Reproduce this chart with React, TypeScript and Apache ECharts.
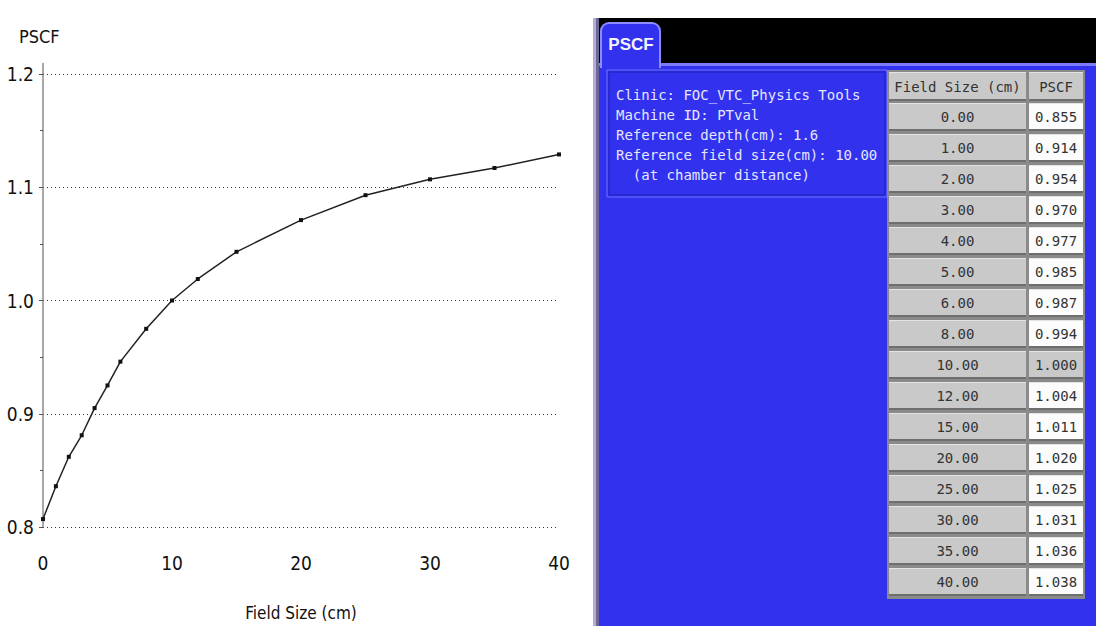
import React, { useEffect, useRef } from "react";
import * as echarts from "echarts";

// Field sizes (cm) shared by the curve and the table
const fieldSizes = [0, 1, 2, 3, 4, 5, 6, 8, 10, 12, 15, 20, 25, 30, 35, 40];
// PSCF values plotted on the curve
const curvePscf = [
  0.807, 0.836, 0.862, 0.881, 0.905, 0.925, 0.946, 0.975, 1.0, 1.019, 1.043,
  1.071, 1.093, 1.107, 1.117, 1.129,
];
// PSCF values listed in the table
const tablePscf = [
  0.855, 0.914, 0.954, 0.97, 0.977, 0.985, 0.987, 0.994, 1.0, 1.004, 1.011,
  1.02, 1.025, 1.031, 1.036, 1.038,
];
const referenceFieldSize = 10;
const infoLines = [
  "Clinic: FOC_VTC_Physics Tools",
  "Machine ID: PTval",
  "Reference depth(cm): 1.6",
  "Reference field size(cm): 10.00",
  "  (at chamber distance)",
];
const tableHeaders = ["Field Size (cm)", "PSCF"];
const tabTitle = "PSCF";

const NARROW = "'Liberation Sans Narrow', 'DejaVu Sans Condensed', 'Liberation Sans', sans-serif";
const MONO = "'DejaVu Sans Mono', 'Liberation Mono', monospace";
const BLUE = "#3131ee";

function buildPanel(): any[] {
  const els: any[] = [];
  // short extension of the value axis above its top tick
  els.push({ type: "line", shape: { x1: 43, y1: 63, x2: 43, y2: 74 }, style: { stroke: "#8a8a8a", lineWidth: 1.5 } });
  // panel frame
  els.push({ type: "rect", shape: { x: 593, y: 18, width: 3, height: 608 }, style: { fill: "#b4acd8" } });
  els.push({ type: "rect", shape: { x: 596, y: 18, width: 3, height: 608 }, style: { fill: "#6c6a92" } });
  els.push({ type: "rect", shape: { x: 599, y: 18, width: 497, height: 46 }, style: { fill: "#000" } });
  els.push({ type: "rect", shape: { x: 599, y: 63, width: 497, height: 3 }, style: { fill: "#7c7cfa" } });
  els.push({ type: "rect", shape: { x: 599, y: 66, width: 497, height: 560 }, style: { fill: BLUE } });
  // tab
  els.push({
    type: "rect",
    shape: { x: 601, y: 23, width: 59, height: 44, r: [8, 8, 0, 0] },
    style: { fill: BLUE, stroke: "#8c8cff", lineWidth: 2 },
  });
  els.push({ type: "rect", shape: { x: 602, y: 63, width: 57, height: 5 }, style: { fill: BLUE } });
  els.push({
    type: "text",
    style: {
      text: tabTitle, x: 631, y: 44, align: "center", verticalAlign: "middle",
      fill: "#f4f4ff", font: "bold 17px 'Liberation Sans', 'DejaVu Sans', sans-serif",
    },
  });
  // info box
  els.push({ type: "rect", shape: { x: 607, y: 70, width: 280, height: 127 }, style: { fill: "none", stroke: "#7070ff", lineWidth: 1 } });
  els.push({ type: "rect", shape: { x: 609, y: 72, width: 276, height: 123 }, style: { fill: "none", stroke: "#2222b8", lineWidth: 1 } });
  infoLines.forEach((line, i) => {
    els.push({
      type: "text",
      style: {
        text: line, x: 616, y: 95 + i * 20, align: "left", verticalAlign: "middle",
        fill: "#e6e6ff", font: `14px ${MONO}`,
      },
    });
  });
  // table
  const colX = [889, 1029];
  const colW = [137, 54];
  els.push({ type: "rect", shape: { x: 887, y: 70, width: 198, height: 529 }, style: { fill: "#8a8a8a" } });
  const cell = (x: number, y: number, w: number, h: number, fill: string, text: string) => {
    els.push({ type: "rect", shape: { x, y, width: w, height: h }, style: { fill } });
    els.push({ type: "rect", shape: { x, y: y + h - 2, width: w, height: 2 }, style: { fill: "#6e6e6e" } });
    els.push({ type: "rect", shape: { x, y, width: w, height: 1 }, style: { fill: "#e4e4e4" } });
    els.push({
      type: "text",
      style: {
        text, x: x + w / 2, y: y + h / 2, align: "center", verticalAlign: "middle",
        fill: "#333", font: `14px ${MONO}`,
      },
    });
  };
  tableHeaders.forEach((h, c) => cell(colX[c], 72, colW[c], 29, "#c9c9c9", h));
  fieldSizes.forEach((fs, i) => {
    const y = 103 + i * 31;
    cell(colX[0], y, colW[0], 28, "#c9c9c9", fs.toFixed(2));
    cell(colX[1], y, colW[1], 28, fs === referenceFieldSize ? "#c9c9c9" : "#fcfcfc", tablePscf[i].toFixed(3));
  });
  return els;
}

export default function App() {
  const ref = useRef<HTMLDivElement>(null);
  useEffect(() => {
    const chart = echarts.init(ref.current!, null, { renderer: "svg" });
    chart.setOption({
      animation: false,
      backgroundColor: "#fff",
      title: {
        text: "PSCF", left: 14, top: 22,
        textStyle: { fontFamily: NARROW, fontSize: 18, fontWeight: "normal", color: "#111" },
      },
      grid: { left: 43, right: 537, top: 74, bottom: 92 },
      xAxis: {
        type: "value", min: 0, max: 40, interval: 10,
        name: "Field Size (cm)", nameLocation: "middle", nameGap: 77,
        nameTextStyle: { fontFamily: NARROW, fontSize: 17, color: "#111" },
        axisLine: { show: false }, axisTick: { show: false }, splitLine: { show: false },
        axisLabel: { margin: 26, fontFamily: NARROW, fontSize: 19, color: "#111" },
      },
      yAxis: {
        type: "value", min: 0.8, max: 1.2, interval: 0.1,
        axisLine: { show: true, lineStyle: { color: "#8a8a8a", width: 1.5 } },
        axisTick: { show: true, length: 4, lineStyle: { color: "#555" } },
        minorTick: { show: true, splitNumber: 2, length: 3, lineStyle: { color: "#555" } },
        splitLine: { show: true, lineStyle: { color: "#333", width: 1, type: [1, 3] } },
        axisLabel: {
          margin: 9, fontFamily: NARROW, fontSize: 19, color: "#111",
          formatter: (v: number) => v.toFixed(1),
        },
      },
      series: [
        {
          type: "line",
          data: fieldSizes.map((fs, i) => [fs, curvePscf[i]]),
          symbol: "rect", symbolSize: 4,
          itemStyle: { color: "#111" },
          lineStyle: { color: "#222", width: 1.5 },
        },
      ],
      graphic: buildPanel(),
    });
    return () => chart.dispose();
  }, []);
  return (
    <div
      ref={ref}
      style={{ position: "absolute", left: 0, top: 0, width: 1096, height: 626, background: "#fff" }}
    />
  );
}
